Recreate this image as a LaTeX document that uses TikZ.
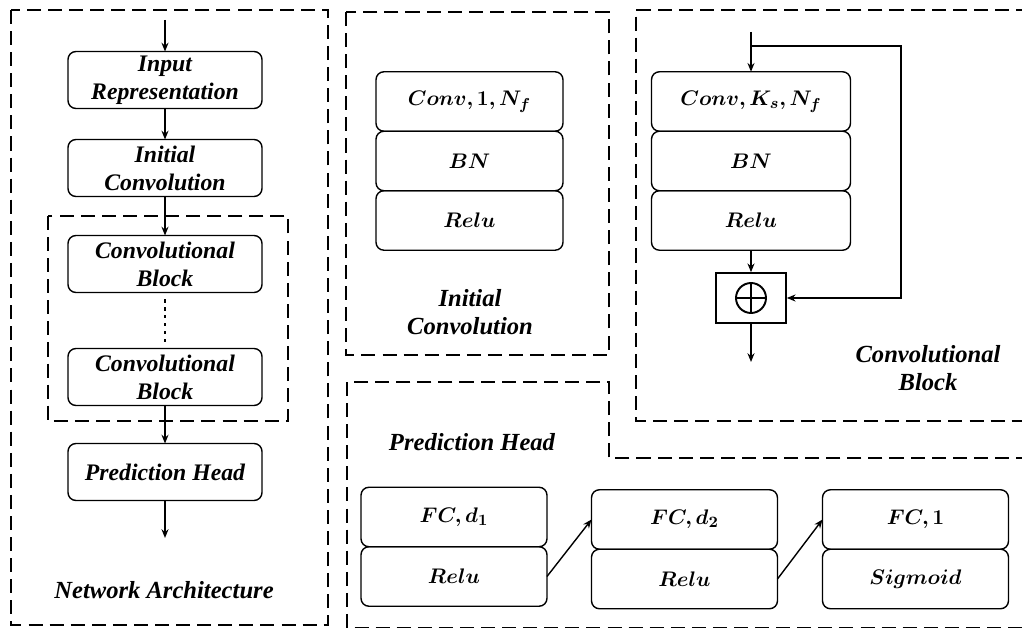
\documentclass[tikz,border=0pt]{standalone}
\usepackage{fontspec}
\setmainfont{Liberation Serif}
\usepackage{amsmath}
\usepackage{bm}
\usetikzlibrary{arrows.meta,positioning}
\tikzset{%
	block/.style  = {draw, rounded corners=4.5pt, line width=0.8pt, outer sep=0pt, inner sep=0pt, align=center, font=\fontsize{13.5}{16}\selectfont\bfseries\itshape},
	arch/.style   = {block, minimum width=3.88cm, minimum height=1.14cm}, % left column
	layer/.style  = {block, minimum height=1.19cm, font=\fontsize{13}{15}\selectfont}, % stacked layers
	addbox/.style = {draw, line width=0.9pt, minimum width=1.4cm, minimum height=1cm,
		path picture={\draw[line width=1.1pt] (path picture bounding box.center) circle (0.3cm)
			([xshift=-0.3cm]path picture bounding box.center) -- ([xshift=0.3cm]path picture bounding box.center)
			([yshift=-0.3cm]path picture bounding box.center) -- ([yshift=0.3cm]path picture bounding box.center);}},
	frame/.style  = {line width=1.1pt, dash pattern=on 8pt off 4pt}, % panels
	title/.style  = {align=center, font=\fontsize{14}{16}\selectfont\bfseries\itshape},
	link/.style   = {-{Stealth[length=5pt,width=4pt]}, line width=0.8pt},
	dots/.style   = {line width=1.6pt, dash pattern=on 1.8pt off 2.7pt},
}
\begin{document}
\begin{tikzpicture}[x=0.02cm, y=-0.02cm]
	\useasboundingbox (0,0) rectangle (1022,628);
	
	% network architecture
	\draw[frame] (11,10) rectangle (328,625);
	\draw[frame] (48,216) rectangle (288,421);
	\node[arch] (inp) at (165,80) {Input\\Representation};
	\node[arch] (init) at (165,168) {Initial\\Convolution};
	\node[arch] (cb1) at (165,264) {Convolutional\\Block};
	\node[arch] (cb2) at (165,377) {Convolutional\\Block};
	\node[arch] (head) at (165,472) {Prediction Head};
	\coordinate (in) at (165,20);
	\coordinate (out) at (165,538);
	\draw[link] (in) -- (inp);
	\draw[link] (inp) -- (init);
	\draw[link] (init) -- (cb1);
	\draw[link] (cb2) -- (head);
	\draw[link] (head) -- (out);
	\draw[dots] ([yshift=-0.14cm]cb1.south) -- ([yshift=0.12cm]cb2.north);
	\node[title] (archlbl) at (164,590) {Network Architecture};
	
	% initial convolution
	\draw[frame] (346,12) rectangle (609,355);
	\node[layer, minimum width=3.74cm] (ic1) at (469.5,101.5) {$\bm{Conv,1,N_f}$};
	\node[layer, minimum width=3.74cm, below=0pt of ic1] (ic2) {$\bm{BN}$};
	\node[layer, minimum width=3.74cm, below=0pt of ic2] (ic3) {$\bm{Relu}$};
	\node[title] (iclbl) at (470,312) {Initial\\Convolution};
	
	% convolutional block
	\draw[frame] (1030,10) -| (636,421) -- (1030,421);
	\node[layer, minimum width=3.98cm] (cv1) at (751,101.5) {$\bm{Conv,K_s,N_f}$};
	\node[layer, minimum width=3.98cm, below=0pt of cv1] (cv2) {$\bm{BN}$};
	\node[layer, minimum width=3.98cm, below=0pt of cv2] (cv3) {$\bm{Relu}$};
	\node[addbox] (add) at (751,298) {};
	\coordinate (cvin) at (751,32);
	\coordinate (split) at (751,46);
	\coordinate (skip) at (901,46);
	\coordinate (cvout) at (751,362);
	\draw[link] (cvin) -- (cv1);
	\draw[link] (split) -- (skip) |- (add);
	\draw[link] (cv3) -- (add);
	\draw[link] (add) -- (cvout);
	\node[title] (cvlbl) at (928,368) {Convolutional\\Block};
	
	% prediction head
	\draw[frame] (1030,458) -| (609,382) -| (347,627.5) -- (1030,627.5);
	\node[title] (phlbl) at (472,442) {Prediction Head};
	\node[layer, minimum width=3.72cm] (fc1) at (454,517) {$\bm{FC,d_1}$};
	\node[layer, minimum width=3.72cm, below=0pt of fc1] (r1) {$\bm{Relu}$};
	\node[layer, minimum width=3.72cm] (fc2) at (684.5,519.5) {$\bm{FC,d_2}$};
	\node[layer, minimum width=3.72cm, below=0pt of fc2] (r2) {$\bm{Relu}$};
	\node[layer, minimum width=3.72cm] (fc3) at (915.5,519.5) {$\bm{FC,1}$};
	\node[layer, minimum width=3.72cm, below=0pt of fc3] (r3) {$\bm{Sigmoid}$};
	\draw[link] (r1.east) -- (fc2.west);
	\draw[link] (r2.east) -- (fc3.west);
\end{tikzpicture}
\end{document}
